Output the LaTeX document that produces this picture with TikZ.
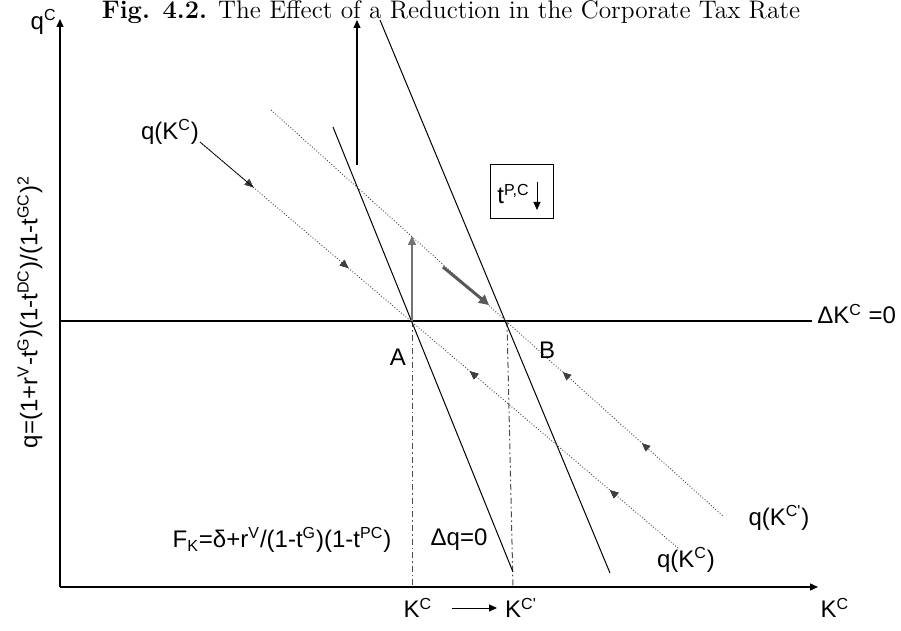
\documentclass[tikz,border=0pt]{standalone}
\usepackage{fontspec}
\newfontfamily\arialf{Liberation Sans}
\usetikzlibrary{arrows.meta,decorations.markings}
\begin{document}
\begin{tikzpicture}[x=0.5pt,y=-0.5pt,
  lbl/.style={font=\arialf\fontsize{12}{14}\selectfont, inner sep=0pt},
  tipped/.style={-{Triangle[length=4pt,width=3.5pt]}},
  axisline/.style={line width=0.7pt, tipped},
  steep/.style={line width=0.5pt},
  saddle/.style={densely dotted, line width=0.45pt, draw=black!75},
  vdash/.style={dash pattern=on 3pt off 1.5pt on 0.8pt off 1.5pt, line width=0.5pt, draw=black!70},
  headfwd/.style={postaction={decorate}, decoration={markings,
     mark=at position #1 with {\arrow{Triangle[length=4pt,width=3.5pt]}}}},
  headback/.style={postaction={decorate}, decoration={markings,
     mark=at position #1 with {\arrowreversed{Triangle[length=4pt,width=3.5pt]}}}},
]
\useasboundingbox (0,0) rectangle (901,631);

% title
\node[inner sep=0pt, font=\fontsize{12.7}{14}\selectfont] (title) at (451,12)
  {\textbf{Fig. 4.2.} The Effect of a Reduction in the Corporate Tax Rate};

% axes
\coordinate (O) at (60,587);
\coordinate (Ytop) at (60,19);
\coordinate (Xend) at (818,587);
\draw[axisline] (O) -- (Ytop);
\draw[axisline] (O) -- (Xend);
\node[lbl, anchor=east] (qC) at (57,22) {q\textsuperscript{C}};
\node[lbl, rotate=90] (qlab) at (30,312)
  {q=(1+r\textsuperscript{V}-t\textsuperscript{G})(1-t\textsuperscript{DC})/(1-t\textsuperscript{GC})\textsuperscript{2}};
\node[lbl] (KCax) at (835,608) {K\textsuperscript{C}};

% Delta K = 0 line
\coordinate (DKl) at (60,321);
\coordinate (DKr) at (812,321);
\draw[line width=0.6pt] (DKl) -- (DKr);
\node[lbl, anchor=west] (DKlab) at (817,314) {ΔK\textsuperscript{C} =0};

% equilibrium points
\coordinate (A) at (412,321);
\coordinate (B) at (507,321);
\coordinate (Abot) at (412,587);
\coordinate (Bbot) at (513,587);
\draw[vdash] (A) -- (Abot);
\draw[vdash] (B) -- (Bbot);
\node[lbl] (Alab) at (398,357) {A};
\node[lbl] (Blab) at (547,350) {B};

% steep Delta q = 0 lines
\coordinate (L1t) at (333,127);
\coordinate (L1b) at (513,572);
\coordinate (L2t) at (380,20);
\coordinate (L2b) at (610,573);
\draw[steep] (L1t) -- (L1b);
\draw[steep] (L2t) -- (L2b);

% upward shift arrow
\coordinate (Ub) at (357,165);
\coordinate (Ut) at (357,20);
\draw[line width=0.6pt, tipped] (Ub) -- (Ut);

% saddle paths
\coordinate (S1a) at (200,142);
\coordinate (S1b) at (678,548);
\coordinate (S2a) at (271,110);
\coordinate (S2b) at (723,516);
\draw[saddle, headfwd=0.111, headfwd=0.31, headback=0.565, headback=0.858] (S1a) -- (S1b);
\draw[saddle, headback=0.646, headback=0.821] (S2a) -- (S2b);
\coordinate (S1m) at (253,187);
\draw[line width=0.35pt] (S1a) -- (S1m);

% gray arrows
\coordinate (Gt) at (412,236);
\draw[line width=0.75pt, draw=black!55, -{Triangle[length=4.5pt,width=4pt]}, color=black!55] (A) -- (Gt);
\coordinate (Ta) at (443,267);
\coordinate (Tb) at (489,305);
\draw[line width=1.5pt, draw=black!65, -{Triangle[length=5pt,width=5pt]}, color=black!65] (Ta) -- (Tb);

% tax box
\node[draw, line width=0.5pt, minimum width=31.5pt, minimum height=27pt, inner sep=0pt] (box) at (521.5,192) {};
\node[lbl, anchor=west] (tPC) at (497,194) {t\textsuperscript{P,C}};
\coordinate (Da) at (537,182);
\coordinate (Db) at (537,210);
\draw[line width=0.5pt, tipped] (Da) -- (Db);

% curve labels
\node[lbl] (qKtop) at (170,132) {q(K\textsuperscript{C})};
\node[lbl] (qKbot) at (686,560) {q(K\textsuperscript{C})};
\node[lbl] (qKp) at (779,518) {q(K\textsuperscript{C'})};
\node[lbl] (FK) at (282,540) {F\textsubscript{K}=δ+r\textsuperscript{V}/(1-t\textsuperscript{G})(1-t\textsuperscript{PC})};
\node[lbl] (dq) at (459,540) {Δq=0};

% K shift
\node[lbl] (K1) at (418,608) {K\textsuperscript{C}};
\node[lbl] (K2) at (521,608) {K\textsuperscript{C'}};
\coordinate (KA) at (452,608);
\coordinate (KB) at (497,608);
\draw[line width=0.5pt, tipped] (KA) -- (KB);
\end{tikzpicture}
\end{document}
